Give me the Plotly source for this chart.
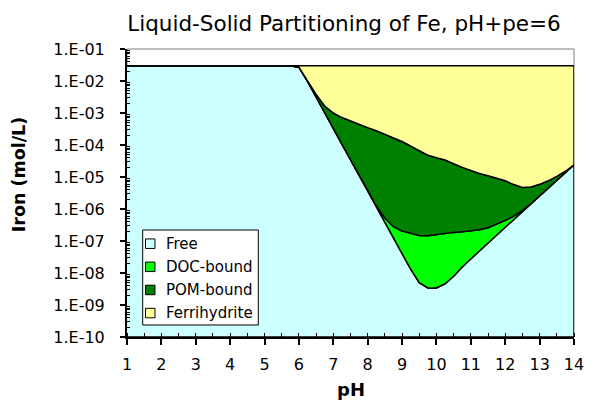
import plotly.graph_objects as go

# ---- data (mol/L) ----
ph = [1, 2, 3, 4, 5, 5.5, 5.75, 6, 6.25, 6.5, 6.75, 7, 7.25, 7.5, 7.75, 8, 8.25, 8.5,
      8.75, 9, 9.25, 9.5, 9.75, 10, 10.25, 10.5, 10.75, 11, 11.25, 11.5, 11.75, 12,
      12.25, 12.5, 12.75, 13, 13.25, 13.5, 13.75, 14]

# upper boundary of the Free layer
top_free = [3.0e-2, 3.0e-2, 3.0e-2, 3.0e-2, 3.0e-2, 3.0e-2, 3.0e-2, 2.7e-2, 9.8e-3, 3.2e-3,
            1.0e-3, 3.3e-4, 1.07e-4, 3.5e-5, 1.12e-5, 3.6e-6, 1.17e-6, 3.8e-7, 1.23e-7, 4.0e-8,
            1.32e-8, 5.0e-9, 3.4e-9, 3.4e-9, 4.6e-9, 7.9e-9, 1.55e-8, 2.8e-8, 5.0e-8, 8.7e-8,
            1.51e-7, 2.7e-7, 4.7e-7, 8.3e-7, 1.45e-6, 2.5e-6, 4.5e-6, 7.8e-6, 1.38e-5, 2.4e-5]

# upper boundary of Free + DOC-bound
top_doc = [3.0e-2, 3.0e-2, 3.0e-2, 3.0e-2, 3.0e-2, 3.0e-2, 3.0e-2, 2.7e-2, 9.8e-3, 3.2e-3,
           1.0e-3, 3.3e-4, 1.07e-4, 3.5e-5, 1.12e-5, 3.7e-6, 1.26e-6, 5.2e-7, 2.8e-7, 2.04e-7,
           1.70e-7, 1.48e-7, 1.45e-7, 1.58e-7, 1.74e-7, 1.86e-7, 1.95e-7, 2.04e-7, 2.24e-7, 2.6e-7,
           3.3e-7, 4.4e-7, 6.0e-7, 8.9e-7, 1.48e-6, 2.5e-6, 4.5e-6, 7.8e-6, 1.38e-5, 2.4e-5]

# upper boundary of Free + DOC-bound + POM-bound
top_pom = [3.0e-2, 3.0e-2, 3.0e-2, 3.0e-2, 3.0e-2, 3.0e-2, 3.0e-2, 2.7e-2, 1.02e-2, 3.8e-3,
           1.66e-3, 1.0e-3, 7.2e-4, 5.5e-4, 4.4e-4, 3.5e-4, 2.8e-4, 2.2e-4, 1.66e-4, 1.29e-4,
           9.5e-5, 6.6e-5, 4.8e-5, 4.0e-5, 3.4e-5, 2.6e-5, 2.0e-5, 1.58e-5, 1.29e-5, 1.10e-5,
           9.3e-6, 7.6e-6, 5.8e-6, 4.7e-6, 4.9e-6, 5.9e-6, 7.6e-6, 1.05e-5, 1.51e-5, 2.4e-5]

# upper boundary of all species (total iron, incl. Ferrihydrite)
top_ferri = [3.0e-2, 3.0e-2, 3.0e-2, 3.0e-2, 3.0e-2, 3.0e-2, 3.0e-2, 3.0e-2, 3.0e-2, 3.0e-2,
             3.0e-2, 3.0e-2, 3.0e-2, 3.0e-2, 3.0e-2, 3.0e-2, 3.0e-2, 3.0e-2, 3.0e-2, 3.0e-2,
             3.0e-2, 3.0e-2, 3.0e-2, 3.0e-2, 3.0e-2, 3.0e-2, 3.0e-2, 3.0e-2, 3.0e-2, 3.0e-2,
             3.0e-2, 3.0e-2, 3.0e-2, 3.0e-2, 3.0e-2, 3.0e-2, 3.0e-2, 3.0e-2, 3.0e-2, 3.0e-2]

names = ["Free", "DOC-bound", "POM-bound", "Ferrihydrite"]
colors = ["#CCFFFF", "#00FF00", "#008000", "#FFFF99"]

y_exp_min, y_exp_max = -10, -1
y_floor = 10.0 ** y_exp_min
tick_vals = [10.0 ** e for e in range(y_exp_min, y_exp_max + 1)]
tick_text = ["1.E-%02d" % (-e) for e in range(y_exp_min, y_exp_max + 1)]
minor_vals = [k * 10.0 ** e for e in range(y_exp_min, y_exp_max) for k in range(2, 10)]

floor = [y_floor] * len(ph)
uppers = [top_free, top_doc, top_pom, top_ferri]
lowers = [floor, top_free, top_doc, top_pom]

FONT = "DejaVu Sans, Verdana, sans-serif"

fig = go.Figure()
for name, col, up, lo in zip(names, colors, uppers, lowers):
    fig.add_trace(go.Scatter(
        x=ph + ph[::-1],
        y=up + lo[::-1],
        mode="lines",
        fill="toself",
        fillcolor=col,
        line=dict(color="black", width=1.5),
        name=name,
        showlegend=False,
        hoverinfo="skip",
    ))

# ---- legend box drawn in paper coordinates (Excel-style, square swatches) ----
shapes = [dict(type="rect", xref="paper", yref="paper", x0=0, x1=1, y0=0, y1=1,
               line=dict(color="#808080", width=1), layer="below"),
          dict(type="rect", xref="paper", yref="paper", x0=0.0351, x1=0.2937,
               y0=0.0417, y1=0.3715, fillcolor="white",
               line=dict(color="black", width=1), layer="above")]
annotations = []
row_top, row_step, sw_half = 0.324, 0.0803, 0.0165
for i, (name, col) in enumerate(zip(names, colors)):
    yc = row_top - i * row_step
    shapes.append(dict(type="rect", xref="paper", yref="paper", x0=0.0414, x1=0.0626,
                       y0=yc - sw_half, y1=yc + sw_half, fillcolor=col,
                       line=dict(color="black", width=1), layer="above"))
    annotations.append(dict(text=name, xref="paper", yref="paper", x=0.083, y=yc,
                            xanchor="left", yanchor="middle", showarrow=False,
                            font=dict(family=FONT, size=15, color="black")))

annotations += [
    dict(text="<b>Iron (mol/L)</b>", xref="paper", yref="paper", x=-0.241, y=0.566,
         textangle=-90, showarrow=False, xanchor="center", yanchor="middle",
         font=dict(family=FONT, size=17.5, color="black")),
    dict(text="<b>pH</b>", xref="paper", yref="paper", x=0.5, y=-0.184,
         showarrow=False, xanchor="center", yanchor="middle",
         font=dict(family=FONT, size=18, color="black")),
]

# The page body has an 8px margin, so the figure is 8px smaller and shifted.
fig.update_layout(
    width=589, height=400,
    margin=dict(l=119, r=23, t=41, b=71),
    paper_bgcolor="white", plot_bgcolor="white",
    font=dict(family=FONT, size=16, color="black"),
    title=dict(text="Liquid-Solid Partitioning of Fe, pH+pe=6",
               font=dict(family=FONT, size=21.5, color="black"),
               x=0.5705, xref="container", xanchor="center",
               y=0.9625, yref="container", yanchor="middle"),
    showlegend=False,
    xaxis=dict(range=[1, 14], dtick=1, tick0=1, showgrid=False, zeroline=False,
               showline=True, linecolor="black", linewidth=2,
               ticks="outside", ticklen=6, tickwidth=1.5, tickcolor="black",
               ticklabelstandoff=6,
               tickfont=dict(family=FONT, size=16, color="black"),
               minor=dict(dtick=0.5, ticks="inside", ticklen=4, tickwidth=1,
                          tickcolor="black", showgrid=False)),
    yaxis=dict(type="log", range=[y_exp_min, y_exp_max], showgrid=False, zeroline=False,
               showline=True, linecolor="black", linewidth=2,
               tickmode="array", tickvals=tick_vals, ticktext=tick_text,
               ticks="outside", ticklen=5, tickwidth=1.5, tickcolor="black",
               ticklabelstandoff=12,
               tickfont=dict(family=FONT, size=16, color="black"),
               minor=dict(tickmode="array", tickvals=minor_vals, ticks="inside",
                          ticklen=3, tickwidth=1, tickcolor="black", showgrid=False)),
    shapes=shapes,
    annotations=annotations,
)

fig.write_html("out.html")
